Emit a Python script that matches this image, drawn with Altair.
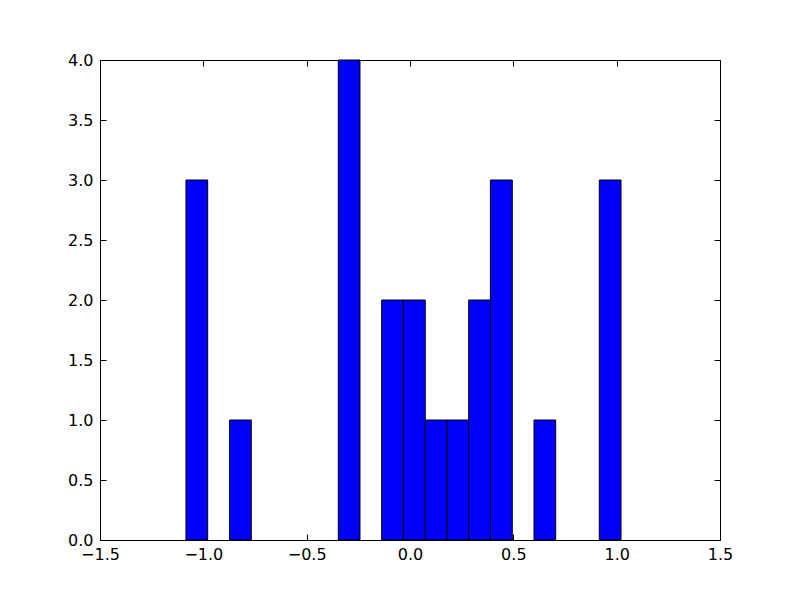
import altair as alt
import pandas as pd

bin_left = [-1.084, -0.979, -0.873, -0.768, -0.663, -0.558, -0.452, -0.347, -0.242, -0.137,
            -0.032, 0.074, 0.179, 0.284, 0.389, 0.495, 0.600, 0.705, 0.811, 0.916]
bin_right = [-0.979, -0.873, -0.768, -0.663, -0.558, -0.452, -0.347, -0.242, -0.137, -0.032,
             0.074, 0.179, 0.284, 0.389, 0.495, 0.600, 0.705, 0.811, 0.916, 1.021]
counts = [3, 0, 1, 0, 0, 0, 0, 4, 0, 2, 2, 1, 1, 2, 3, 0, 1, 0, 0, 3]

x_ticks = [-1.5, -1.0, -0.5, 0.0, 0.5, 1.0, 1.5]
y_ticks = [0.0, 0.5, 1.0, 1.5, 2.0, 2.5, 3.0, 3.5, 4.0]

df = pd.DataFrame({"left": bin_left, "right": bin_right, "count": counts})
df["base"] = 0
df = df[df["count"] > 0]

TICK = 6
FONT = "DejaVu Sans"

xscale = alt.Scale(domain=[-1.5, 1.5], nice=False, zero=False)
yscale = alt.Scale(domain=[0, 4], nice=False)

bars = alt.Chart(df).mark_bar(
    color="#0000ff", stroke="black", strokeWidth=1, opacity=1
).encode(
    x=alt.X("left:Q", scale=xscale, axis=alt.Axis(
        orient="bottom", values=x_ticks, format=".1f", title=None, grid=False,
        domain=False, offset=-TICK, tickSize=TICK, tickColor="black",
        labelFlush=False, labelOverlap=False,
        labelPadding=6, labelFont=FONT, labelFontSize=16, labelColor="black")),
    x2="right:Q",
    y=alt.Y("count:Q", scale=yscale, axis=alt.Axis(
        orient="left", values=y_ticks, format=".1f", title=None, grid=False,
        domain=False, offset=-TICK, tickSize=TICK, tickColor="black",
        labelFlush=False, labelOverlap=False,
        labelPadding=7, labelFont=FONT, labelFontSize=16, labelColor="black")),
    y2="base:Q",
)

frame_ticks = alt.Chart(df).mark_bar(opacity=0).encode(
    x=alt.X("left:Q", scale=xscale, axis=alt.Axis(
        orient="top", values=x_ticks, labels=False, title=None, grid=False,
        domain=False, offset=-TICK, tickSize=TICK, tickColor="black")),
    x2="right:Q",
    y=alt.Y("count:Q", scale=yscale, axis=alt.Axis(
        orient="right", values=y_ticks, labels=False, title=None, grid=False,
        domain=False, offset=-TICK, tickSize=TICK, tickColor="black")),
    y2="base:Q",
)

chart = alt.layer(bars, frame_ticks).resolve_scale(
    x="independent", y="independent"
).properties(
    width=620, height=480,
    background="white",
    autosize=alt.AutoSizeParams(type="none"),
    padding={"left": 92, "top": 52, "right": 72, "bottom": 52},
).configure_view(
    stroke="black", strokeWidth=1
)

chart.save("out.html", embed_options={"renderer": "svg", "actions": False})
